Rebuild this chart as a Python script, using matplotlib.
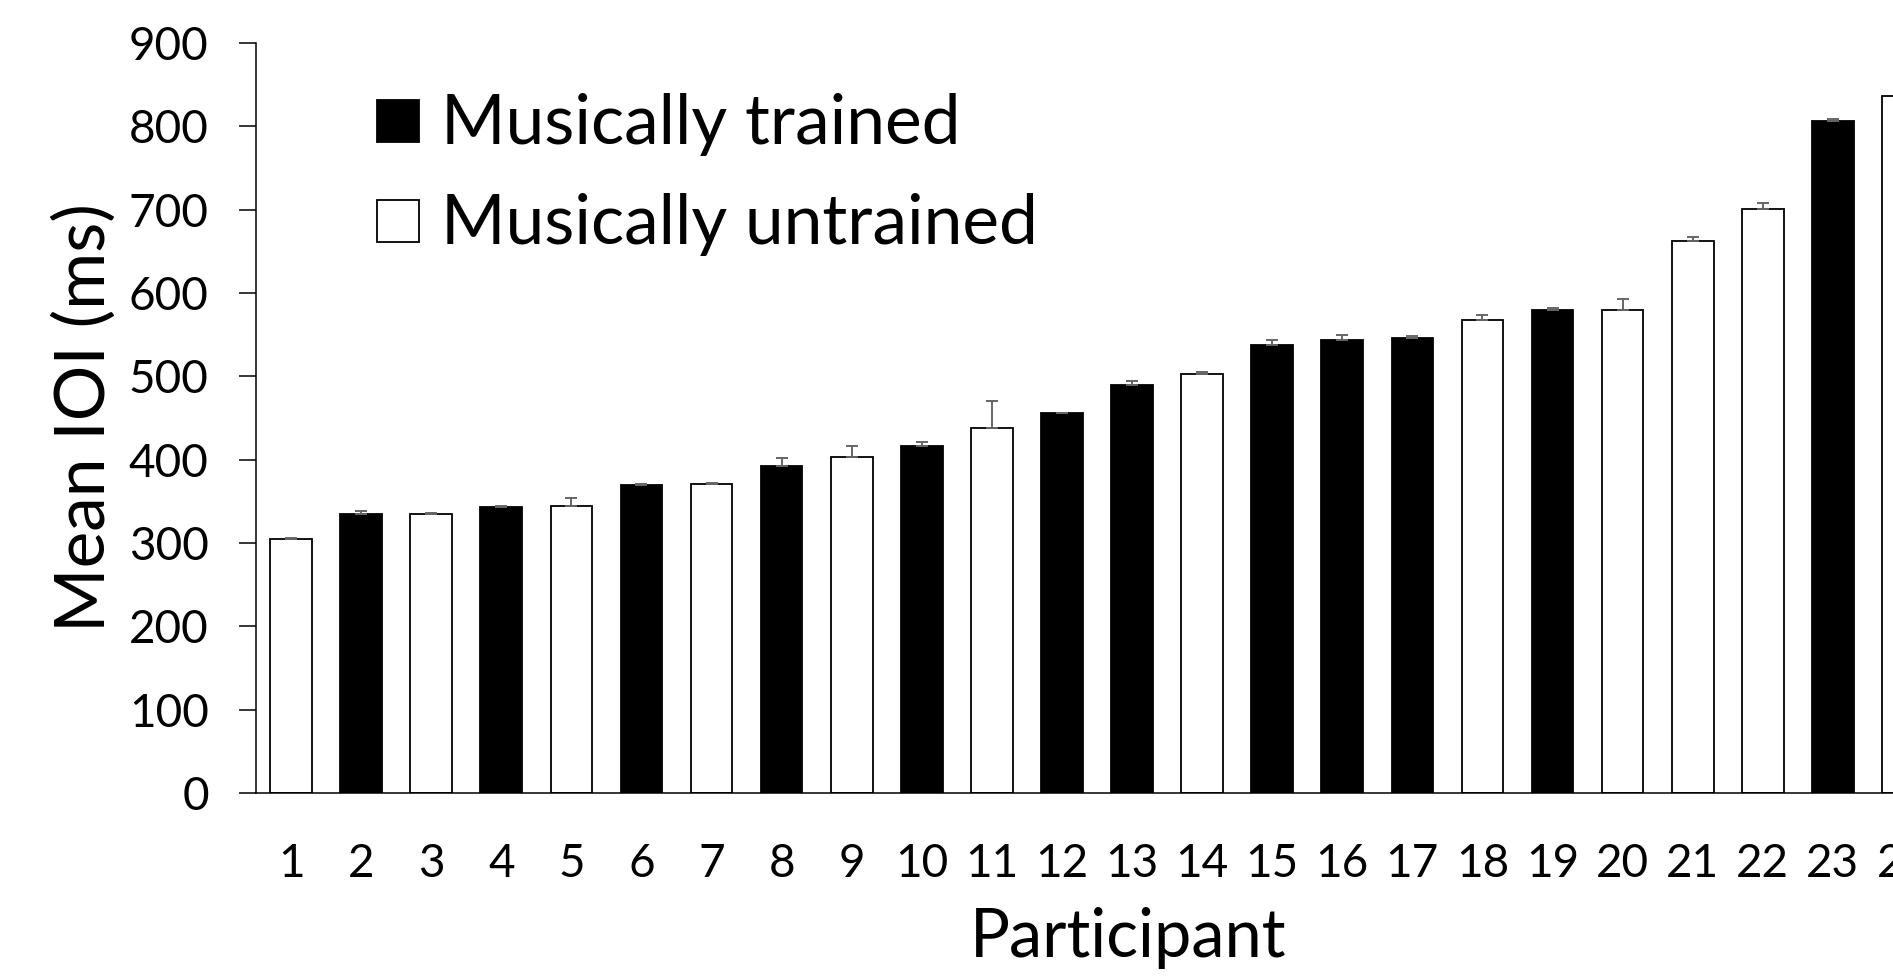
import matplotlib
matplotlib.use("Agg")
import matplotlib.pyplot as plt
from matplotlib.patches import Rectangle

plt.rcParams['font.family'] = ['Lato', 'DejaVu Sans']

participants = list(range(1, 25))
mean_ioi = [305, 335, 335, 343, 344, 370, 371, 392, 403, 417, 438, 456,
            490, 503, 538, 544, 546, 568, 580, 580, 662, 701, 807, 837]
sem = [0.5, 3, 1, 1.5, 10, 0.5, 1.5, 10, 14, 4, 32, 0.5,
       4.5, 2.5, 5.5, 6, 3, 6, 1.5, 13, 5, 7, 2, 5]
trained = [0, 1, 0, 1, 0, 1, 0, 1, 0, 1, 0, 1,
           1, 0, 1, 1, 1, 0, 1, 0, 0, 0, 1, 0]
yticks = [0, 100, 200, 300, 400, 500, 600, 700, 800, 900]

W, H = 1893, 976
fig = plt.figure(figsize=(W / 100, H / 100), dpi=100)

# axes run off the right edge like the original crop
ax = fig.add_axes([256 / W, 183 / H, 1682 / W, 750 / H])

colors = ["black" if t else "white" for t in trained]
ax.bar(participants, mean_ioi, width=0.595, color=colors,
       edgecolor="black", linewidth=1.3, zorder=2)
ax.errorbar(participants, mean_ioi, yerr=[[0] * len(sem), sem], fmt="none",
            ecolor="#666666", elinewidth=1.4, capsize=4, capthick=1.4, zorder=3)

ax.set_xlim(0.5, 24.5)
ax.set_ylim(0, 900)
ax.set_yticks(yticks)
ax.set_xticks(participants)
ax.tick_params(axis="y", length=12, width=1.1, pad=22, labelsize=33)
ax.tick_params(axis="x", length=0, pad=36, labelsize=33)
for s in ["top", "right"]:
    ax.spines[s].set_visible(False)
for s in ["left", "bottom"]:
    ax.spines[s].set_linewidth(1.1)

ax.set_ylabel("Mean IOI (ms)", fontsize=50)
ax.yaxis.set_label_coords(-0.083, 0.5)
fig.text(1128 / W, 1 - 938 / H, "Participant", fontsize=48,
         ha="center", va="center")

# legend drawn by hand
for i, (fc, lab) in enumerate([("black", "Musically trained"),
                               ("white", "Musically untrained")]):
    yc = 121 + i * 100
    fig.add_artist(Rectangle((377 / W, 1 - (yc + 21) / H), 42 / W, 42 / H,
                             facecolor=fc, edgecolor="black", linewidth=1.3,
                             transform=fig.transFigure))
    fig.text(441 / W, 1 - (yc + 3) / H, lab, fontsize=50, ha="left", va="center")

fig.savefig("out.png", dpi=100)
